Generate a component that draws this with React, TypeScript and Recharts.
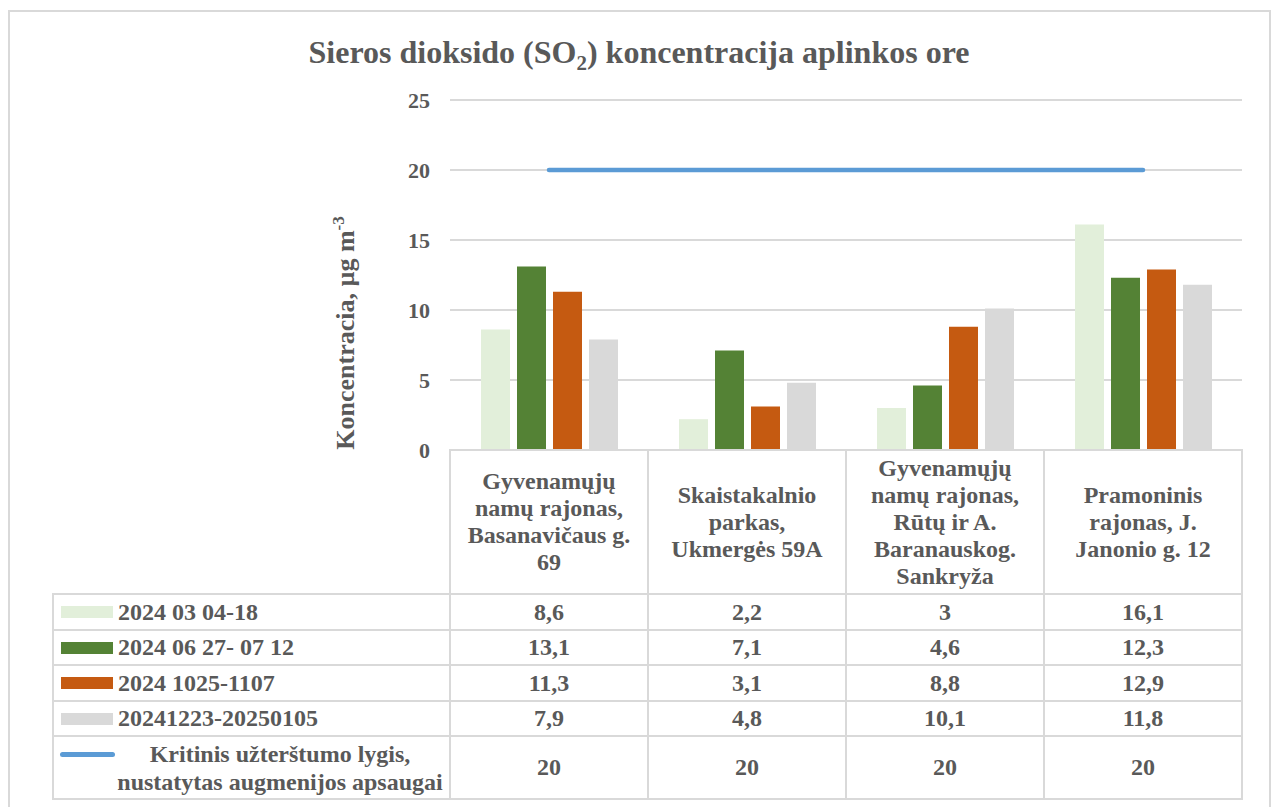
import React from 'react';
import { ComposedChart, Bar, Line, XAxis, YAxis, CartesianGrid } from 'recharts';

// categories (station names, line breaks as in the original table)
const categories = [
  'Gyvenamųjų\nnamų rajonas,\nBasanavičaus g.\n69',
  'Skaistakalnio\nparkas,\nUkmergės 59A',
  'Gyvenamųjų\nnamų rajonas,\nRūtų ir A.\nBaranauskog.\nSankryža',
  'Pramoninis\nrajonas, J.\nJanonio g. 12',
];

const seriesNames = ['2024 03 04-18', '2024 06 27- 07 12', '2024 1025-1107', '20241223-20250105'];
const seriesColors = ['#E2EFDA', '#548235', '#C55A11', '#D9D9D9'];

const march = [8.6, 2.2, 3, 16.1];
const july = [13.1, 7.1, 4.6, 12.3];
const october = [11.3, 3.1, 8.8, 12.9];
const december = [7.9, 4.8, 10.1, 11.8];
const seriesValues = [march, july, october, december];

const limitName = 'Kritinis užterštumo lygis,\nnustatytas augmenijos apsaugai';
const limitColor = '#5B9BD5';
const limit = [20, 20, 20, 20];

const yTicks = [0, 5, 10, 15, 20, 25];

const data = categories.map((name, i) => ({
  name,
  s0: march[i],
  s1: july[i],
  s2: october[i],
  s3: december[i],
  limit: limit[i],
}));

const fmt = (v: number) => String(v).replace('.', ',');

const W = 1274;
const H = 807;
const plotLeft = 450;
const plotRight = 1242;
const plotTop = 100;
const plotBottom = 450;
const band = (plotRight - plotLeft) / categories.length;
const rowLines = [450, 594, 630, 665, 701, 736, 799];
const legendLeft = 53;
const gridColor = '#D9D9D9';
const textColor = '#595959';
const font = '"Liberation Serif", "Times New Roman", serif';

const HLine = ({ x1, x2, y }: { x1: number; x2: number; y: number }) => (
  <div style={{ position: 'absolute', left: x1 - 1, top: y - 1, width: x2 - x1 + 2, height: 2, background: gridColor }} />
);
const VLine = ({ x, y1, y2 }: { x: number; y1: number; y2: number }) => (
  <div style={{ position: 'absolute', left: x - 1, top: y1 - 1, width: 2, height: y2 - y1 + 2, background: gridColor }} />
);

const Cell = ({ left, top, width, height, children, style }: any) => (
  <div
    style={{
      position: 'absolute',
      left,
      top,
      width,
      height,
      display: 'flex',
      alignItems: 'center',
      justifyContent: 'center',
      textAlign: 'center',
      ...style,
    }}
  >
    {children}
  </div>
);

export default function App() {
  const colX = categories.map((_, i) => plotLeft + i * band);
  return (
    <div
      style={{
        position: 'absolute',
        left: 0,
        top: 0,
        width: W,
        height: H,
        overflow: 'hidden',
        background: '#fff',
        fontFamily: font,
        fontWeight: 700,
        color: textColor,
      }}
    >
      <div style={{ position: 'absolute', left: 8, top: 10, width: 1259, height: 820, border: `2px solid ${gridColor}` }} />

      <div style={{ position: 'absolute', left: 0, top: 36, width: 1278, textAlign: 'center', fontSize: 32, lineHeight: '32px' }}>
        Sieros dioksido (SO<span style={{ fontSize: 21, position: 'relative', top: 7 }}>2</span>) koncentracija aplinkos ore
      </div>

      <div
        style={{
          position: 'absolute',
          left: 346 - 160,
          top: 333 - 15,
          width: 320,
          height: 30,
          lineHeight: '30px',
          fontSize: 26,
          textAlign: 'center',
          transform: 'rotate(-90deg)',
          whiteSpace: 'nowrap',
        }}
      >
        Koncentracia, µg m<span style={{ fontSize: 17, position: 'relative', top: -10 }}>-3</span>
      </div>

      <div style={{ position: 'absolute', left: 0, top: 0 }}>
        <ComposedChart
          width={W}
          height={H}
          data={data}
          margin={{ top: plotTop, right: W - plotRight, bottom: H - plotBottom, left: plotLeft - 60 }}
          barCategoryGap={31}
          barGap={7}
        >
          <CartesianGrid vertical={false} stroke={gridColor} strokeWidth={2} />
          <XAxis dataKey="name" hide />
          <YAxis
            width={60}
            domain={[0, 25]}
            ticks={yTicks}
            axisLine={false}
            tickLine={false}
            tickSize={0}
            tickMargin={20}
            tick={{ fill: textColor, fontSize: 22, fontWeight: 700, fontFamily: font }}
          />
          {seriesNames.map((n, i) => (
            <Bar key={n} dataKey={`s${i}`} name={n} fill={seriesColors[i]} isAnimationActive={false} />
          ))}
          <Line
            type="linear"
            dataKey="limit"
            name={limitName}
            stroke={limitColor}
            strokeWidth={4.5}
            strokeLinecap="round"
            dot={false}
            activeDot={false}
            isAnimationActive={false}
          />
        </ComposedChart>
      </div>

      {/* data table */}
      {categories.map((c, i) => (
        <Cell
          key={c}
          left={colX[i]}
          top={rowLines[0]}
          width={band}
          height={rowLines[1] - rowLines[0]}
          style={{ fontSize: 24, lineHeight: '27px', whiteSpace: 'pre-line' }}
        >
          {c}
        </Cell>
      ))}

      {seriesNames.map((n, r) => (
        <React.Fragment key={n}>
          <div
            style={{
              position: 'absolute',
              left: 61,
              top: (rowLines[r + 1] + rowLines[r + 2]) / 2 - 6,
              width: 52,
              height: 12,
              background: seriesColors[r],
            }}
          />
          <Cell
            left={118}
            top={rowLines[r + 1]}
            width={330}
            height={rowLines[r + 2] - rowLines[r + 1]}
            style={{ justifyContent: 'flex-start', fontSize: 24, whiteSpace: 'nowrap' }}
          >
            {n}
          </Cell>
          {seriesValues[r].map((v, i) => (
            <Cell
              key={i}
              left={colX[i]}
              top={rowLines[r + 1]}
              width={band}
              height={rowLines[r + 2] - rowLines[r + 1]}
              style={{ fontSize: 24 }}
            >
              {fmt(v)}
            </Cell>
          ))}
        </React.Fragment>
      ))}

      <div
        style={{
          position: 'absolute',
          left: 60,
          top: (rowLines[5] + rowLines[6]) / 2 - 16,
          width: 55,
          height: 5,
          borderRadius: 3,
          background: limitColor,
        }}
      />
      <Cell
        left={112}
        top={rowLines[5]}
        width={336}
        height={rowLines[6] - rowLines[5]}
        style={{ fontSize: 24, lineHeight: '28px', whiteSpace: 'pre-line' }}
      >
        {limitName}
      </Cell>
      {limit.map((v, i) => (
        <Cell key={i} left={colX[i]} top={rowLines[5]} width={band} height={rowLines[6] - rowLines[5]} style={{ fontSize: 24 }}>
          {fmt(v)}
        </Cell>
      ))}

      {/* table grid */}
      <HLine x1={plotLeft} x2={plotRight} y={rowLines[0]} />
      {rowLines.slice(1).map((y) => (
        <HLine key={y} x1={legendLeft} x2={plotRight} y={y} />
      ))}
      {[...colX, plotRight].map((x) => (
        <VLine key={x} x={x} y1={rowLines[0]} y2={rowLines[6]} />
      ))}
      <VLine x={legendLeft} y1={rowLines[1]} y2={rowLines[6]} />
    </div>
  );
}
